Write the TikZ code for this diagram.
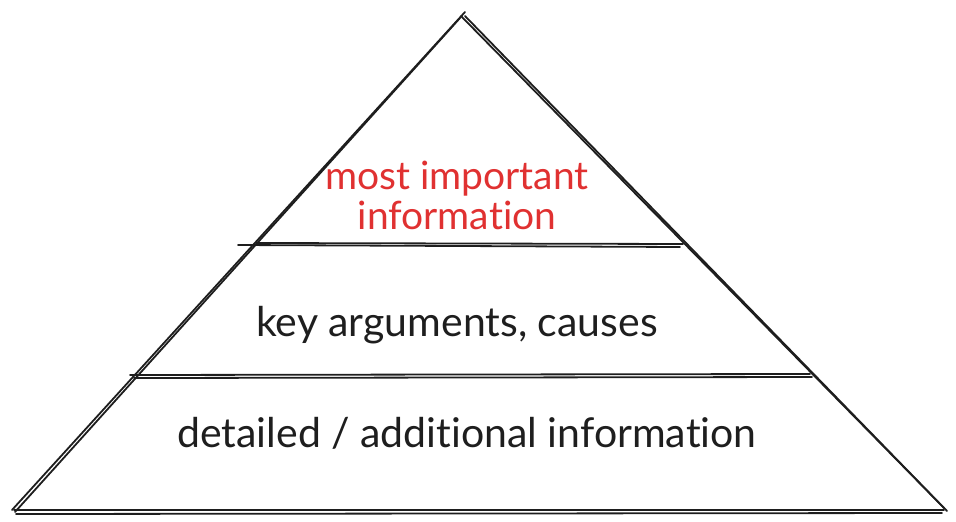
\documentclass[tikz,border=0pt]{standalone}
\usepackage{fontspec}
\setmainfont[Ligatures={NoCommon,NoRare}]{Lato}
\definecolor{exred}{HTML}{E03131}
\definecolor{ink}{HTML}{1E1E1E}
\begin{document}
\begin{tikzpicture}[x=1pt,y=-1pt,
  sk/.style={draw=ink,line width=1.8pt,line cap=round},
  lbl/.style={font=\fontsize{41}{40}\selectfont,text=ink,inner sep=0pt},
  redlbl/.style={lbl,font=\fontsize{39}{40}\selectfont,text=exred,align=center}]
\useasboundingbox (0,0) rectangle (956,522);
% pyramid corners
\coordinate (A) at (463,14);
\coordinate (L) at (12,512);
\coordinate (R) at (946,510);
% left edge
\draw[sk] (465,12) -- (12,510);
\draw[sk] (460,18) -- (15,512);
% right edge
\draw[sk] (461,16) -- (944,508);
\draw[sk] (465,16) -- (947,511);
% base
\draw[sk] (14,510) -- (944,510);
\draw[sk] (16,514) -- (942,513);
% top band line
\draw[sk] (238,245) -- (680,247);
\draw[sk] (256,243) -- (683,244);
% middle band line
\draw[sk] (130,375) -- (810,374);
\draw[sk] (134,378) -- (812,377);
% labels
\node[redlbl] (top) at (457,195) {most important\\information};
\node[lbl] (mid) at (457,325) {key arguments, causes};
\node[lbl] (bot) at (467,433) {detailed / additional information};
\end{tikzpicture}
\end{document}
